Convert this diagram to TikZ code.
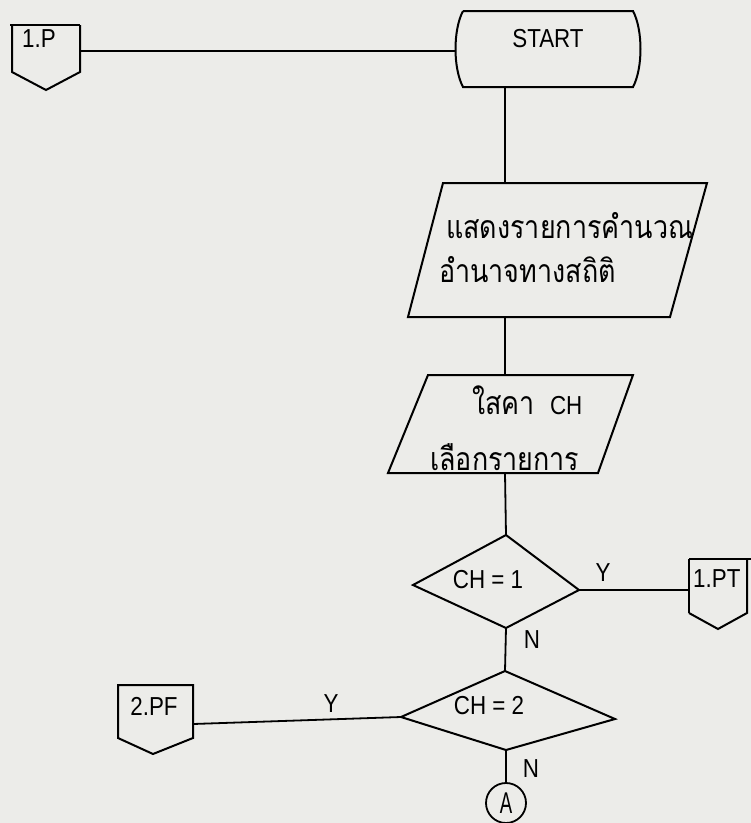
\documentclass[tikz,border=0pt]{standalone}
\usepackage{fontspec}
\setmainfont{Liberation Sans}[FakeStretch=0.86]
\newfontfamily\thaifont[Script=Thai,FakeStretch=0.84]{Loma}
\definecolor{paper}{RGB}{236,236,233}
\tikzset{
  box/.style={line width=2pt, line join=miter},
  wire/.style={line width=1.8pt},
  lbl/.style={font=\fontsize{26}{28}\selectfont, inner sep=0pt},
  thai/.style={font=\fontsize{32}{34}\selectfont\thaifont, inner sep=0pt, anchor=west},
}

\begin{document}
\begin{tikzpicture}[x=1pt, y=-1pt]
  \fill [paper] (0,0) rectangle (751,823);
  \useasboundingbox (0,0) rectangle (751,823);

  \coordinate (pL) at (80,51);
  \coordinate (startL) at (455,51);
  \coordinate (startB) at (505,87);
  \coordinate (io1T) at (505,183);
  \coordinate (io1B) at (505,317);
  \coordinate (io2T) at (505,375);
  \coordinate (io2B) at (505,473);
  \coordinate (d1T) at (506,535);
  \coordinate (d1R) at (579,590);
  \coordinate (d1B) at (506,628);
  \coordinate (d1L) at (413,585);
  \coordinate (ptL) at (689,590);
  \coordinate (d2T) at (505,671);
  \coordinate (d2R) at (615,719);
  \coordinate (d2B) at (506,750);
  \coordinate (d2L) at (401,717);
  \coordinate (pfR) at (193,724);

  \draw [box] (12,25) -- (12,72) -- (46,90) -- (80,72) -- (80,25);
  \draw [box] (10,25) -- (80,25);
  \node [lbl, anchor=west] (p) at (22,39) {1.P};

  \draw [box] (463,11) -- (633,11) .. controls (643,30) and (643,68) .. (633,87)
    -- (463,87) .. controls (453,68) and (453,30) .. (463,11);
  \node [lbl] (start) at (548,39) {START};

  \draw [box] (443,183) -- (707,183) -- (670,317) -- (408,317) -- cycle;
  \node [thai] (show) at (446,226) {แสดงรายการคำนวณ};
  \node [thai] (power) at (439,270) {อำนาจทางสถิติ};

  \draw [box] (428,375) -- (633,375) -- (598,473) -- (388,473) -- cycle;
  \node [thai] (input) at (472,400) {ใสคา {\normalfont\fontsize{26}{28}\selectfont\ CH}};
  \node [thai] (choose) at (430,457) {เลือกรายการ};

  \draw [box] (d1T) -- (d1R) -- (d1B) -- (d1L) -- cycle;
  \node [lbl] (ch1) at (488,580) {CH = 1};

  \draw [box] (689,613) -- (718,629) -- (747,613) -- (747,559);
  \draw [box] (689,559) -- (751,559);
  \draw [box] (689,559) -- (689,613);
  \node [lbl, anchor=west] (pt) at (693,579) {1.PT};

  \draw [box] (d2T) -- (d2R) -- (d2B) -- (d2L) -- cycle;
  \node [lbl] (ch2) at (489,706) {CH = 2};

  \draw [box] (118,685) -- (118,738) -- (153,754) -- (193,738) -- (193,685) -- cycle;
  \node [lbl] (pf) at (154,706) {2.PF};

  \node [draw, circle, line width=1.8pt, minimum size=40pt, inner sep=0pt,
    font=\fontsize{30}{30}\selectfont] (A) at (506,803) {\scalebox{0.72}[1]{A}};

  \draw [wire] (pL) -- (startL);
  \draw [wire] (startB) -- (io1T);
  \draw [wire] (io1B) -- (io2T);
  \draw [wire] (io2B) -- (d1T);
  \draw [wire] (d1R) -- (ptL);
  \draw [wire] (d1B) -- (d2T);
  \draw [wire] (d2L) -- (pfR);
  \draw [wire] (d2B) -- (A);
  \node [lbl] (y1) at (603,573) {Y};
  \node [lbl] (n1) at (532,640) {N};
  \node [lbl] (y2) at (331,704) {Y};
  \node [lbl] (n2) at (531,769) {N};
\end{tikzpicture}
\end{document}
